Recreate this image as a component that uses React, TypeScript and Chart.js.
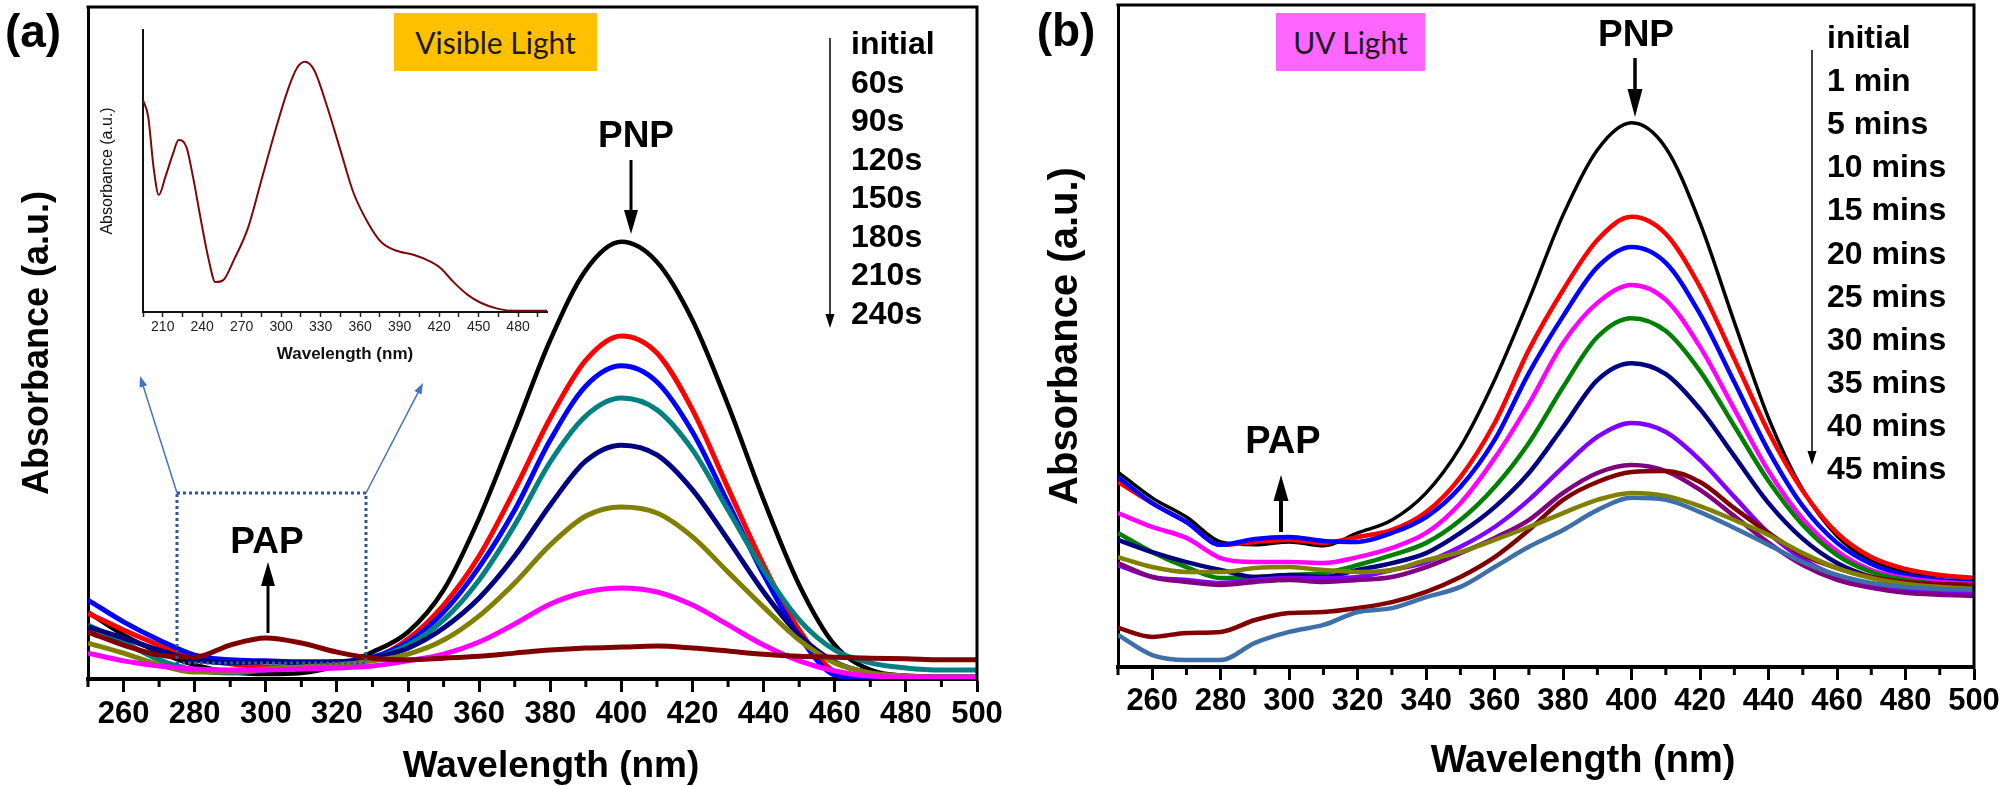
import React, { useEffect, useRef } from "react";
import { Chart, registerables } from "chart.js";

Chart.register(...registerables);

const FONT = "'Liberation Sans', Arial, Helvetica, sans-serif";
const BOX_FONT = "Lato, 'Open Sans', sans-serif";

// ---------- data ----------
const wavelengths = [250, 260, 270, 280, 290, 300, 310, 320, 330, 340, 350, 360, 370, 380, 390, 400, 410, 420, 430, 440, 450, 460, 470, 480, 490, 500];

// Panel (a) – visible light
const labelsA = ["initial", "60s", "90s", "120s", "150s", "180s", "210s", "240s"];
const colorsA = ["#000000", "#FF0000", "#0000FF", "#008080", "#000080", "#808000", "#FF00FF", "#800000"];
const a_initial = [0.199, 0.131, 0.080, 0.042, 0.021, 0.015, 0.018, 0.039, 0.080, 0.140, 0.265, 0.479, 0.741, 1.009, 1.217, 1.301, 1.241, 1.068, 0.815, 0.533, 0.280, 0.101, 0.027, 0.009, 0.006, 0.006];
const a_60s = [0.196, 0.146, 0.101, 0.062, 0.045, 0.036, 0.033, 0.039, 0.060, 0.119, 0.220, 0.366, 0.563, 0.777, 0.949, 1.021, 0.970, 0.801, 0.568, 0.339, 0.146, 0.021, 0, 0, 0, 0];
const a_90s = [0.235, 0.170, 0.116, 0.071, 0.057, 0.054, 0.051, 0.051, 0.065, 0.110, 0.199, 0.333, 0.503, 0.711, 0.872, 0.932, 0.884, 0.735, 0.524, 0.310, 0.128, 0.012, 0, 0, 0, 0];
const a_120s = [0.161, 0.110, 0.057, 0.027, 0.018, 0.027, 0.036, 0.042, 0.060, 0.101, 0.176, 0.295, 0.458, 0.646, 0.783, 0.836, 0.801, 0.682, 0.503, 0.324, 0.176, 0.086, 0.048, 0.033, 0.027, 0.027];
const a_150s = [0.155, 0.122, 0.086, 0.057, 0.048, 0.051, 0.048, 0.051, 0.062, 0.092, 0.152, 0.241, 0.366, 0.518, 0.649, 0.696, 0.667, 0.563, 0.414, 0.259, 0.131, 0.051, 0.018, 0.009, 0.006, 0.006];
const a_180s = [0.107, 0.077, 0.042, 0.021, 0.021, 0.030, 0.036, 0.042, 0.054, 0.074, 0.116, 0.188, 0.286, 0.399, 0.485, 0.512, 0.494, 0.423, 0.318, 0.214, 0.116, 0.048, 0.018, 0.009, 0.006, 0.006];
const a_210s = [0.077, 0.054, 0.039, 0.030, 0.027, 0.027, 0.030, 0.033, 0.039, 0.054, 0.074, 0.110, 0.164, 0.223, 0.259, 0.271, 0.259, 0.220, 0.161, 0.101, 0.054, 0.024, 0.009, 0.006, 0.006, 0.006];
const a_240s = [0.140, 0.101, 0.071, 0.065, 0.101, 0.122, 0.107, 0.080, 0.062, 0.057, 0.062, 0.068, 0.077, 0.086, 0.092, 0.095, 0.098, 0.092, 0.083, 0.074, 0.068, 0.065, 0.062, 0.060, 0.057, 0.057];
const seriesA = [a_initial, a_60s, a_90s, a_120s, a_150s, a_180s, a_210s, a_240s];

// Panel (b) – UV light
const labelsB = ["initial", "1 min", "5 mins", "10 mins", "15 mins", "20 mins", "25 mins", "30 mins", "35 mins", "40 mins", "45 mins"];
const colorsB = ["#000000", "#FF0000", "#0000FF", "#FF00FF", "#008000", "#000080", "#8000FF", "#800080", "#800000", "#808000", "#3D6FA8"];
const b_initial = [0.589, 0.511, 0.453, 0.378, 0.369, 0.378, 0.366, 0.405, 0.444, 0.526, 0.665, 0.867, 1.109, 1.366, 1.562, 1.644, 1.568, 1.341, 1.042, 0.752, 0.535, 0.396, 0.320, 0.287, 0.275, 0.269];
const b_1 = [0.559, 0.495, 0.438, 0.369, 0.378, 0.384, 0.375, 0.393, 0.414, 0.468, 0.574, 0.737, 0.958, 1.139, 1.290, 1.360, 1.308, 1.148, 0.931, 0.710, 0.532, 0.405, 0.332, 0.296, 0.278, 0.269];
const b_5 = [0.574, 0.495, 0.438, 0.369, 0.387, 0.393, 0.381, 0.378, 0.405, 0.453, 0.544, 0.686, 0.888, 1.060, 1.208, 1.269, 1.221, 1.066, 0.861, 0.653, 0.486, 0.375, 0.311, 0.278, 0.263, 0.257];
const b_10 = [0.465, 0.423, 0.390, 0.329, 0.317, 0.317, 0.314, 0.332, 0.360, 0.405, 0.495, 0.631, 0.795, 0.979, 1.100, 1.154, 1.109, 0.967, 0.779, 0.592, 0.447, 0.350, 0.293, 0.269, 0.257, 0.251];
const b_15 = [0.405, 0.347, 0.302, 0.269, 0.272, 0.278, 0.284, 0.308, 0.338, 0.375, 0.444, 0.544, 0.677, 0.846, 0.997, 1.054, 1.015, 0.894, 0.728, 0.562, 0.429, 0.338, 0.287, 0.263, 0.251, 0.245];
const b_20 = [0.384, 0.347, 0.317, 0.293, 0.272, 0.278, 0.272, 0.293, 0.314, 0.344, 0.405, 0.483, 0.586, 0.725, 0.867, 0.918, 0.885, 0.779, 0.637, 0.495, 0.387, 0.314, 0.272, 0.251, 0.242, 0.239];
const b_25 = [0.308, 0.272, 0.263, 0.254, 0.263, 0.269, 0.269, 0.272, 0.293, 0.317, 0.363, 0.423, 0.505, 0.604, 0.695, 0.737, 0.710, 0.625, 0.514, 0.405, 0.326, 0.275, 0.245, 0.233, 0.230, 0.227];
const b_30 = [0.314, 0.272, 0.257, 0.248, 0.257, 0.263, 0.257, 0.263, 0.272, 0.302, 0.344, 0.390, 0.444, 0.526, 0.586, 0.610, 0.592, 0.535, 0.456, 0.375, 0.308, 0.263, 0.239, 0.224, 0.218, 0.215];
const b_35 = [0.118, 0.091, 0.103, 0.106, 0.142, 0.163, 0.166, 0.178, 0.196, 0.227, 0.272, 0.332, 0.414, 0.505, 0.559, 0.589, 0.592, 0.559, 0.480, 0.405, 0.338, 0.299, 0.272, 0.257, 0.251, 0.248];
const b_40 = [0.332, 0.302, 0.287, 0.287, 0.299, 0.302, 0.293, 0.287, 0.293, 0.323, 0.347, 0.384, 0.423, 0.465, 0.505, 0.526, 0.517, 0.486, 0.444, 0.399, 0.344, 0.299, 0.269, 0.251, 0.242, 0.236];
const b_45 = [0.097, 0.036, 0.021, 0.021, 0.073, 0.106, 0.127, 0.166, 0.178, 0.211, 0.242, 0.302, 0.363, 0.414, 0.474, 0.511, 0.505, 0.468, 0.420, 0.369, 0.317, 0.278, 0.254, 0.242, 0.236, 0.233];
const seriesB = [b_initial, b_1, b_5, b_10, b_15, b_20, b_25, b_30, b_35, b_40, b_45];

// Inset spectrum
const insetWavelengths = [195, 199, 203, 207, 212, 218, 222, 228, 233, 239, 245, 250, 256, 264, 275, 285, 295, 305, 312, 318, 325, 335, 345, 355, 366, 376, 386, 401, 411, 421, 431, 442, 452, 465, 477, 502];
const insetAbsorbance = [0.752, 0.691, 0.514, 0.415, 0.479, 0.564, 0.610, 0.585, 0.479, 0.326, 0.184, 0.106, 0.113, 0.184, 0.301, 0.468, 0.635, 0.787, 0.865, 0.887, 0.858, 0.727, 0.574, 0.422, 0.316, 0.248, 0.220, 0.202, 0.184, 0.156, 0.106, 0.060, 0.032, 0.011, 0.004, 0.004];

// ---------- chart helpers ----------
const framePlugin = {
  id: "frame",
  afterDraw(chart: any, _args: any, opts: any) {
    if (!opts || !opts.enabled) return;
    const { ctx, chartArea } = chart;
    const { left, right, top, bottom } = chartArea;
    ctx.save();
    ctx.strokeStyle = "#000";
    ctx.lineWidth = opts.boxWidth;
    ctx.beginPath();
    ctx.moveTo(left - 1.5, top);
    ctx.lineTo(right, top);
    ctx.lineTo(right, bottom + 2);
    ctx.stroke();
    const xs = chart.scales.x;
    ctx.lineWidth = opts.minorWidth;
    ctx.beginPath();
    for (const t of xs.ticks) {
      if (t.value % 20 !== 0) {
        const px = xs.getPixelForValue(t.value);
        ctx.moveTo(px, bottom);
        ctx.lineTo(px, bottom + opts.minorLen);
      }
    }
    ctx.stroke();
    ctx.restore();
  },
};

function buildDatasets(series: number[][], labels: string[], colors: string[], widths: number[]) {
  const n = series.length;
  return series.map((vals, i) => ({
    label: labels[i],
    data: wavelengths.map((w, j) => ({ x: w, y: vals[j] })),
    borderColor: colors[i],
    backgroundColor: colors[i],
    borderWidth: widths[i],
    pointRadius: 0,
    cubicInterpolationMode: "monotone",
    fill: false,
    order: n - i,
  }));
}

function mainConfig(p: any): any {
  return {
    type: "line",
    data: { datasets: p.datasets },
    options: {
      animation: false,
      responsive: false,
      devicePixelRatio: 1,
      events: [],
      layout: { padding: { left: 0, top: p.padTop, right: p.padRight, bottom: 0 } },
      plugins: {
        legend: { display: false },
        tooltip: { enabled: false },
        frame: { enabled: true, boxWidth: 3, minorWidth: 3, minorLen: 8 },
      },
      scales: {
        x: {
          type: "linear",
          min: 250,
          max: 500,
          ticks: {
            stepSize: 10,
            autoSkip: false,
            maxRotation: 0,
            minRotation: 0,
            includeBounds: false,
            padding: p.tickPad,
            color: "#000",
            font: { family: FONT, size: 31, weight: "bold" },
            callback: (v: number) => (v % 20 === 0 ? String(v) : ""),
          },
          grid: {
            display: true,
            drawOnChartArea: false,
            drawTicks: true,
            tickLength: 13,
            tickWidth: 3,
            tickColor: (c: any) => (c.tick && c.tick.value % 20 === 0 ? "#000" : "rgba(0,0,0,0)"),
          },
          border: { display: true, color: "#000", width: 4 },
          afterFit: (s: any) => {
            s.height = p.xHeight;
          },
        },
        y: {
          min: 0,
          max: 2,
          ticks: { display: false },
          grid: { display: false },
          border: { display: true, color: "#000", width: 3 },
          title: {
            display: true,
            text: "Absorbance (a.u.)",
            color: "#000",
            font: { family: FONT, size: p.yTitleSize, weight: "bold" },
            padding: { top: p.yTitlePad, bottom: 0 },
          },
          afterFit: (s: any) => {
            s.width = p.yWidth;
          },
        },
      },
    },
    plugins: [framePlugin],
  };
}

function insetConfig(): any {
  return {
    type: "line",
    data: {
      datasets: [
        {
          label: "inset",
          data: insetWavelengths.map((w, i) => ({ x: w, y: insetAbsorbance[i] })),
          borderColor: "#7A0A0A",
          borderWidth: 2,
          pointRadius: 0,
          cubicInterpolationMode: "monotone",
          fill: false,
        },
      ],
    },
    options: {
      animation: false,
      responsive: false,
      devicePixelRatio: 1,
      events: [],
      layout: { padding: { left: 0, top: 10, right: 28, bottom: 0 } },
      plugins: { legend: { display: false }, tooltip: { enabled: false } },
      scales: {
        x: {
          type: "linear",
          min: 195,
          max: 502,
          ticks: {
            stepSize: 15,
            autoSkip: false,
            maxRotation: 0,
            minRotation: 0,
            includeBounds: false,
            padding: 2,
            color: "#222",
            font: { family: FONT, size: 14 },
            callback: (v: number) => (v % 30 === 0 ? String(v) : ""),
          },
          grid: { display: true, drawOnChartArea: false, drawTicks: true, tickLength: 5, tickWidth: 1.5, tickColor: "#222" },
          border: { display: true, color: "#111", width: 2 },
          title: {
            display: true,
            text: "Wavelength (nm)",
            color: "#111",
            font: { family: FONT, size: 17, weight: "bold" },
            padding: { top: 0, bottom: 5 },
          },
          afterFit: (s: any) => {
            s.height = 58;
          },
        },
        y: {
          min: 0,
          max: 1,
          ticks: { display: false },
          grid: { display: false },
          border: { display: true, color: "#111", width: 2 },
          title: {
            display: true,
            text: "Absorbance (a.u.)",
            color: "#111",
            font: { family: FONT, size: 16 },
            padding: { top: 3, bottom: 0 },
          },
          afterFit: (s: any) => {
            s.width = 48;
          },
        },
      },
    },
  };
}

// ---------- overlay helpers ----------
function Arrow(props: { x1: number; y1: number; x2: number; y2: number; w: number; head: number; headW: number; color?: string }) {
  const { x1, y1, x2, y2, w, head, headW } = props;
  const color = props.color || "#000";
  const dx = x2 - x1;
  const dy = y2 - y1;
  const len = Math.hypot(dx, dy);
  const ux = dx / len;
  const uy = dy / len;
  const bx = x2 - ux * head;
  const by = y2 - uy * head;
  const px = -uy * (headW / 2);
  const py = ux * (headW / 2);
  return (
    <g>
      <line x1={x1} y1={y1} x2={bx + ux} y2={by + uy} stroke={color} strokeWidth={w} />
      <polygon points={`${x2},${y2} ${bx + px},${by + py} ${bx - px},${by - py}`} fill={color} />
    </g>
  );
}

function Txt(props: { x: number; y: number; size: number; text: string; align?: "center" | "left"; bold?: boolean }) {
  const { x, y, size, text } = props;
  const tx = props.align === "left" ? "0" : "-50%";
  return (
    <div
      style={{
        position: "absolute",
        left: x,
        top: y,
        transform: `translate(${tx}, -50%)`,
        fontSize: size,
        lineHeight: 1,
        fontWeight: props.bold === false ? 400 : 700,
        fontFamily: FONT,
        whiteSpace: "nowrap",
        color: "#000",
      }}
    >
      {text}
    </div>
  );
}

export default function App() {
  const refA = useRef<HTMLCanvasElement>(null);
  const refB = useRef<HTMLCanvasElement>(null);
  const refI = useRef<HTMLCanvasElement>(null);

  useEffect(() => {
    const charts: Chart[] = [];
    if (refA.current) {
      charts.push(
        new Chart(
          refA.current,
          mainConfig({
            datasets: buildDatasets(seriesA, labelsA, colorsA, [4.5, 5, 5, 5, 5, 5, 5, 5]),
            padTop: 7,
            padRight: 35,
            xHeight: 107,
            yWidth: 88,
            yTitleSize: 36,
            yTitlePad: 16,
            tickPad: 4,
          })
        )
      );
    }
    if (refB.current) {
      charts.push(
        new Chart(
          refB.current,
          mainConfig({
            datasets: buildDatasets(seriesB, labelsB, colorsB, [3.5, 4.5, 4.5, 4.5, 4.5, 4.5, 4.5, 4.5, 4.5, 4.5, 4.5]),
            padTop: 5,
            padRight: 33,
            xHeight: 119,
            yWidth: 118,
            yTitleSize: 40,
            yTitlePad: 42,
            tickPad: 3,
          })
        )
      );
    }
    if (refI.current) charts.push(new Chart(refI.current, insetConfig()));
    return () => charts.forEach((c) => c.destroy());
  }, []);

  const legendStepA = 38.5;
  const legendStepB = 43.1;

  return (
    <div style={{ position: "fixed", left: 0, top: 0, width: 2007, height: 786, background: "#fff", overflow: "hidden" }}>
      <canvas ref={refA} width={1012} height={786} style={{ position: "absolute", left: 0, top: 0, width: 1012, height: 786 }} />
      <canvas ref={refB} width={1007} height={786} style={{ position: "absolute", left: 1000, top: 0, width: 1007, height: 786 }} />
      <canvas ref={refI} width={480} height={350} style={{ position: "absolute", left: 95, top: 20, width: 480, height: 350 }} />

      <svg width={2007} height={786} style={{ position: "absolute", left: 0, top: 0 }}>
        <rect x={177} y={493} width={189} height={170} fill="none" stroke="#2F5597" strokeWidth={3} strokeDasharray="3 3" />
        <Arrow x1={177} y1={493} x2={140} y2={376} w={1.5} head={11} headW={8} color="#4472C4" />
        <Arrow x1={366} y1={493} x2={423} y2={383} w={1.5} head={11} headW={8} color="#4472C4" />
        <Arrow x1={631} y1={160} x2={631} y2={234} w={3} head={24} headW={14} />
        <Arrow x1={268} y1={633} x2={268} y2={562} w={3} head={24} headW={14} />
        <Arrow x1={830} y1={38} x2={830} y2={328} w={1.5} head={14} headW={9} />
        <Arrow x1={1635} y1={58} x2={1635} y2={117} w={3.5} head={28} headW={15} />
        <Arrow x1={1281} y1={532} x2={1281} y2={475} w={4} head={26} headW={15} />
        <Arrow x1={1812} y1={50} x2={1812} y2={465} w={1.5} head={14} headW={9} />
      </svg>

      <Txt x={33} y={31} size={46} text="(a)" />
      <Txt x={1066} y={30} size={46} text="(b)" />

      <div
        style={{
          position: "absolute",
          left: 394,
          top: 13,
          width: 203,
          height: 58,
          background: "#FFC000",
          display: "flex",
          alignItems: "center",
          justifyContent: "center",
          fontFamily: BOX_FONT,
          fontSize: 30,
          color: "#1a1a1a",
        }}
      >
        Visible Light
      </div>
      <div
        style={{
          position: "absolute",
          left: 1276,
          top: 13,
          width: 149,
          height: 58,
          background: "#FF66FF",
          display: "flex",
          alignItems: "center",
          justifyContent: "center",
          fontFamily: BOX_FONT,
          fontSize: 30,
          color: "#1a1a1a",
        }}
      >
        UV Light
      </div>

      <Txt x={636} y={134} size={37} text="PNP" />
      <Txt x={267} y={540} size={37} text="PAP" />
      <Txt x={1636} y={33} size={37} text="PNP" />
      <Txt x={1283} y={440} size={38} text="PAP" />

      {labelsA.map((t, i) => (
        <Txt key={"la" + i} x={851} y={43 + i * legendStepA} size={32} text={t} align="left" />
      ))}
      {labelsB.map((t, i) => (
        <Txt key={"lb" + i} x={1827} y={37 + i * legendStepB} size={32} text={t} align="left" />
      ))}

      <Txt x={551} y={764} size={37} text="Wavelength (nm)" />
      <Txt x={1583} y={759} size={38} text="Wavelength (nm)" />
    </div>
  );
}
